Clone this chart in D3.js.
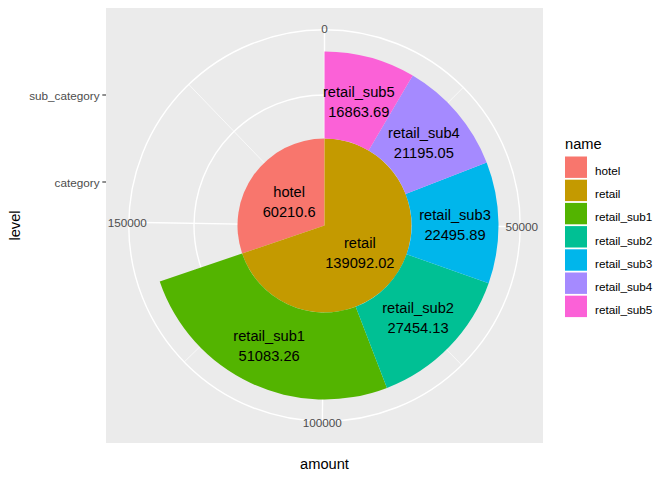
<!DOCTYPE html>
<html>
<head>
<meta charset="utf-8">
<script src="https://d3js.org/d3.v7.min.js"></script>
<style>
  body { margin: 0; background: #fff; }
  svg { display: block; font-family: "Liberation Sans", Arial, sans-serif; }
</style>
</head>
<body>
<div id="vis"></div>
<script>
// data
var names = ["hotel", "retail", "retail_sub1", "retail_sub2", "retail_sub3", "retail_sub4", "retail_sub5"];
var levels = ["category", "category", "sub_category", "sub_category", "sub_category", "sub_category", "sub_category"];
var amounts = [60210.6, 139092.02, 51083.26, 27454.13, 22495.89, 21195.05, 16863.69];
var levelCats = ["category", "sub_category"];
var thetaBreaks = [0, 50000, 100000, 150000];
var thetaMinor = [25000, 75000, 125000, 175000];
var colors = ["#F8766D", "#C49A00", "#53B400", "#00C094", "#00B6EB", "#A58AFF", "#FB61D7"];

var W = 672, H = 480;
var panel = {x: 106, y: 8, w: 437, h: 435};
var cx = panel.x + panel.w / 2, cy = panel.y + panel.h / 2;
var S = 435;

var svg = d3.select("#vis").append("svg").attr("width", W).attr("height", H);

// stacking like ggplot (last group sits at the bottom of each stack)
var rows = names.map(function(n, i) { return {name: n, level: levels[i], amount: amounts[i], color: colors[i]}; });
levelCats.forEach(function(lv) {
  var acc = 0;
  rows.filter(function(d) { return d.level == lv; }).reverse().forEach(function(d) {
    d.y0 = acc; acc += d.amount; d.y1 = acc;
  });
});
var total = d3.max(rows, function(d) { return d.y1; });

var theta = d3.scaleLinear().domain([0, total]).range([0, 2 * Math.PI]);
var levelPos = d3.scalePoint().domain(levelCats).range([1, 2]);
var rscale = d3.scaleLinear().domain([0.5, 2.5]).range([0, 0.4 * S]);
var rOuter = 0.45 * S;

// panel background
svg.append("rect").attr("x", panel.x).attr("y", panel.y).attr("width", panel.w).attr("height", panel.h).attr("fill", "#EBEBEB");

var g = svg.append("g").attr("transform", "translate(" + cx + "," + cy + ")");

// spokes
function spoke(v, w) {
  var a = theta(v);
  g.append("line").attr("x1", 0).attr("y1", 0)
    .attr("x2", rOuter * Math.sin(a)).attr("y2", -rOuter * Math.cos(a))
    .attr("stroke", "#fff").attr("stroke-width", w);
}
thetaBreaks.forEach(function(v) { spoke(v, 1.4); });
thetaMinor.forEach(function(v) { spoke(v, 0.7); });

// radial grid circles
levelCats.map(function(l) { return rscale(levelPos(l)); }).concat([rOuter]).forEach(function(r) {
  g.append("circle").attr("r", r).attr("fill", "none").attr("stroke", "#fff").attr("stroke-width", 1.4);
});

// bars
var arc = d3.arc()
  .innerRadius(function(d) { return rscale(levelPos(d.level) - 0.5); })
  .outerRadius(function(d) { return rscale(levelPos(d.level) + 0.5); })
  .startAngle(function(d) { return theta(d.y0); })
  .endAngle(function(d) { return theta(d.y1); });

g.selectAll(".bar").data(rows).enter().append("path")
  .attr("class", "bar")
  .attr("d", arc)
  .attr("fill", function(d) { return d.color; });

// bar labels
rows.forEach(function(d) {
  var a = theta((d.y0 + d.y1) / 2);
  var r = rscale(levelPos(d.level));
  var x = r * Math.sin(a), y = -r * Math.cos(a) + 2;
  var t = g.append("text").attr("text-anchor", "middle").attr("font-size", "14.67px").attr("fill", "#000");
  t.append("tspan").attr("x", x).attr("y", y - 10).attr("dominant-baseline", "central").text(d.name);
  t.append("tspan").attr("x", x).attr("y", y + 10).attr("dominant-baseline", "central").text(d.amount);
});

// theta labels
thetaBreaks.forEach(function(v) {
  var a = theta(v);
  var rr = rOuter + 1.5;
  g.append("text").attr("x", rr * Math.sin(a)).attr("y", -rr * Math.cos(a))
    .attr("text-anchor", "middle").attr("dominant-baseline", "central")
    .attr("font-size", "11.73px").attr("fill", "#4D4D4D").text(v);
});

// r axis on the left
levelCats.forEach(function(l) {
  var y = cy - rscale(levelPos(l));
  svg.append("line").attr("x1", panel.x - 3.7).attr("x2", panel.x).attr("y1", y).attr("y2", y)
    .attr("stroke", "#333").attr("stroke-width", 1.1);
  svg.append("text").attr("x", panel.x - 6.5).attr("y", y)
    .attr("text-anchor", "end").attr("dominant-baseline", "central")
    .attr("font-size", "11.73px").attr("fill", "#4D4D4D").text(l);
});

// axis titles
svg.append("text").attr("x", cx).attr("y", 464).attr("text-anchor", "middle").attr("dominant-baseline", "central")
  .attr("font-size", "14.67px").text("amount");
svg.append("text").attr("transform", "translate(15," + cy + ") rotate(-90)")
  .attr("text-anchor", "middle").attr("dominant-baseline", "central")
  .attr("font-size", "14.67px").text("level");

// legend
var lg = svg.append("g").attr("transform", "translate(565,0)");
lg.append("text").attr("x", 0).attr("y", 144).attr("dominant-baseline", "central")
  .attr("font-size", "14.67px").text("name");
var keyTop = 156.5, step = 23.2;
names.forEach(function(n, i) {
  var y = keyTop + i * step;
  lg.append("rect").attr("x", 0).attr("y", y).attr("width", 22).attr("height", 21.4).attr("fill", colors[i]);
  lg.append("text").attr("x", 30).attr("y", y + 18.5)
    .attr("font-size", "11.73px").attr("fill", "#000").text(n);
});
</script>
</body>
</html>
